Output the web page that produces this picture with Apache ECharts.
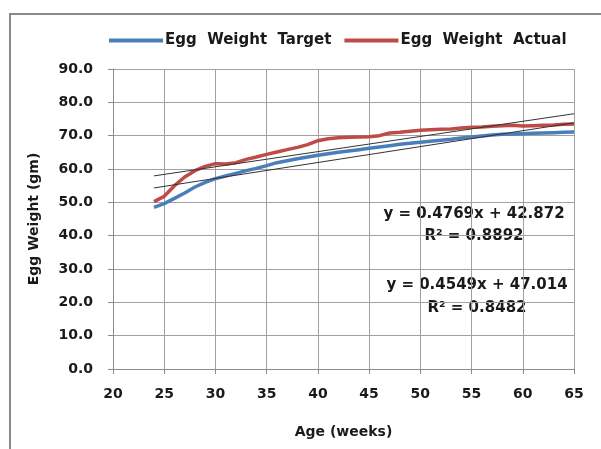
<!DOCTYPE html>
<html>
<head>
<meta charset="utf-8">
<script src="https://cdn.jsdelivr.net/npm/echarts@6/dist/echarts.min.js"></script>
<style>html,body{margin:0;padding:0;background:#fff}#c{width:601px;height:449px}</style>
</head>
<body>
<div id="c"></div>
<script>
var weeks = [24,25,26,27,28,29,30,31,32,33,34,35,36,37,38,39,40,41,42,43,44,45,46,47,48,49,50,51,52,53,54,55,56,57,58,59,60,61,62,63,64,65];
var targetWeight = [48.5,49.6,51.2,52.8,54.6,56.0,57.1,57.9,58.7,59.5,60.2,61.0,61.9,62.5,63.1,63.6,64.1,64.6,65.0,65.4,65.8,66.2,66.6,67.0,67.4,67.7,68.0,68.3,68.6,68.9,69.3,69.6,69.9,70.2,70.4,70.5,70.6,70.7,70.8,70.9,71.0,71.1];
var actualWeight = [50.2,51.8,55.0,57.6,59.5,60.8,61.6,61.5,61.9,62.9,63.6,64.4,65.1,65.8,66.5,67.3,68.5,69.1,69.4,69.5,69.6,69.7,70.0,70.8,71.0,71.3,71.6,71.8,71.9,72.0,72.3,72.5,72.6,72.8,73.0,73.1,72.9,73.0,73.1,73.2,73.4,73.5];
var trendSlopes = [0.4769, 0.4549];
var trendIntercepts = [42.872, 47.014];
var trendR2 = ["0.8892", "0.8482"];
var seriesNames = ["Egg  Weight  Target", "Egg  Weight  Actual"];

var FONT = "DejaVu Sans";
function pairs(ys){ return weeks.map(function(w,i){ return [w, ys[i]]; }); }
function trend(k){
  var x0 = weeks[0], x1 = weeks[weeks.length-1];
  return [[x0, trendSlopes[k]*x0 + trendIntercepts[k]], [x1, trendSlopes[k]*x1 + trendIntercepts[k]]];
}
var eqTexts = [0,1].map(function(k){
  return "y = " + trendSlopes[k] + "x + " + trendIntercepts[k].toFixed(3);
});

var chart = echarts.init(document.getElementById('c'), null, {renderer:'canvas'});
chart.setOption({
  animation:false,
  backgroundColor:'#fff',
  grid:{left:113, right:27, top:69, bottom:80, containLabel:false},
  legend:{
    top:28, left:104,
    data:[{name:seriesNames[0]},{name:seriesNames[1]}],
    icon:'rect', itemWidth:54, itemHeight:4, itemGap:13,
    textStyle:{fontFamily:FONT, fontWeight:'bold', fontSize:15, color:'#1a1a1a', padding:[0,0,0,-3]}
  },
  xAxis:{
    type:'value', min:20, max:65, interval:5,
    name:'Age (weeks)', nameLocation:'middle', nameGap:56,
    nameTextStyle:{fontFamily:FONT, fontWeight:'bold', fontSize:14, color:'#1a1a1a'},
    axisLine:{show:true, lineStyle:{color:'#8c8c8c', width:1}},
    axisTick:{show:true, inside:false, length:5, lineStyle:{color:'#8c8c8c'}},
    axisLabel:{margin:18, fontFamily:FONT, fontWeight:'bold', fontSize:14, color:'#1a1a1a'},
    splitLine:{show:true, lineStyle:{color:'#a0a0a0', width:1}}
  },
  yAxis:{
    type:'value', min:0, max:90, interval:10,
    name:'Egg Weight (gm)', nameLocation:'middle', nameGap:72,
    nameTextStyle:{fontFamily:FONT, fontWeight:'bold', fontSize:14, color:'#1a1a1a'},
    axisLine:{show:true, lineStyle:{color:'#8c8c8c', width:1}},
    axisTick:{show:true, inside:false, length:5, lineStyle:{color:'#8c8c8c'}},
    axisLabel:{margin:20, fontFamily:FONT, fontWeight:'bold', fontSize:14, color:'#1a1a1a',
      formatter:function(v){ return v.toFixed(1); }},
    splitLine:{show:true, lineStyle:{color:'#a0a0a0', width:1}}
  },
  series:[
    {name:seriesNames[0], type:'line', data:pairs(targetWeight), showSymbol:false, symbol:'none',
      lineStyle:{color:'#4a7ebb', width:3.5}, itemStyle:{color:'#4a7ebb'}, z:2},
    {name:seriesNames[1], type:'line', data:pairs(actualWeight), showSymbol:false, symbol:'none',
      lineStyle:{color:'#be4b48', width:3.5}, itemStyle:{color:'#be4b48'}, z:3},
    {name:'trend1', type:'line', data:trend(0), showSymbol:false, symbol:'none',
      lineStyle:{color:'#333', width:1}, z:4, silent:true},
    {name:'trend2', type:'line', data:trend(1), showSymbol:false, symbol:'none',
      lineStyle:{color:'#333', width:1}, z:4, silent:true}
  ],
  graphic:[
    {type:'rect', shape:{x:10, y:14, width:600, height:450}, style:{fill:'none', stroke:'#8a8a8a', lineWidth:2}, silent:true, z:-1},
    {type:'text', x:474, y:214, style:{text:eqTexts[0], fontFamily:FONT, fontWeight:'bold', fontSize:15, fill:'#1a1a1a', align:'center', verticalAlign:'middle'}},
    {type:'text', x:474, y:236, style:{text:'R\u00b2 = ' + trendR2[0], fontFamily:FONT, fontWeight:'bold', fontSize:15, fill:'#1a1a1a', align:'center', verticalAlign:'middle'}},
    {type:'text', x:477, y:285, style:{text:eqTexts[1], fontFamily:FONT, fontWeight:'bold', fontSize:15, fill:'#1a1a1a', align:'center', verticalAlign:'middle'}},
    {type:'text', x:477, y:308, style:{text:'R\u00b2 = ' + trendR2[1], fontFamily:FONT, fontWeight:'bold', fontSize:15, fill:'#1a1a1a', align:'center', verticalAlign:'middle'}}
  ]
});
</script>
</body>
</html>
